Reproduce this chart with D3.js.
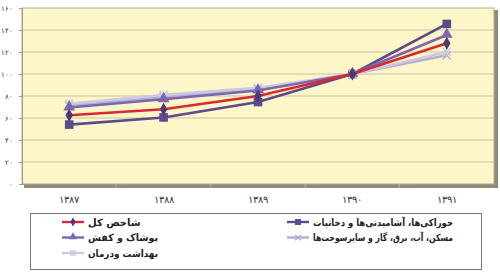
<!DOCTYPE html>
<html>
<head>
<meta charset="utf-8">
<script src="https://cdn.jsdelivr.net/npm/d3@7"></script>
<style>
  body { margin: 0; background: #fff; }
  svg { display: block; font-family: "DejaVu Sans", "Noto Sans", sans-serif; }
</style>
</head>
<body>
<div id="chart"></div>
<script>
// chart data
var years = ["۱۳۸۷", "۱۳۸۸", "۱۳۸۹", "۱۳۹۰", "۱۳۹۱"]
var yTicks = [0, 20, 40, 60, 80, 100, 120, 140, 160]
var yTickLabels = ["۰", "۲۰", "۴۰", "۶۰", "۸۰", "۱۰۰", "۱۲۰", "۱۴۰", "۱۶۰"]

var seriesNames = [
  "خوراکی‌ها، آشامیدنی‌ها و دخانیات",
  "مسکن، آب، برق، گاز و سایرسوخت‌ها",
  "بهداشت ودرمان",
  "پوشاک و کفش",
  "شاخص کل"
]
var foodValues     = [54, 60.5, 74.5, 100, 145.5]
var housingValues  = [71, 79, 86, 100, 117]
var healthValues   = [73, 81, 87.5, 100, 120]
var clothingValues = [69.5, 77, 85, 100, 135.5]
var totalValues    = [62.5, 68, 80, 100, 128]

var series = [
  {name: seriesNames[0], values: foodValues,     line: "#5b4a8c", mark: "#5b4a8c", shape: "square"},
  {name: seriesNames[1], values: housingValues,  line: "#b7abd8", mark: "#b7abd8", shape: "x"},
  {name: seriesNames[2], values: healthValues,   line: "#cdc9df", mark: "#cdc9df", shape: "star"},
  {name: seriesNames[3], values: clothingValues, line: "#7b67ad", mark: "#7b67ad", shape: "triangle"},
  {name: seriesNames[4], values: totalValues,    line: "#d8292e", mark: "#4a3a78", shape: "diamond"}
]

var width = 500, height = 272
var plot = {left: 22, right: 494, top: 8, bottom: 184}

var svg = d3.select("#chart").append("svg")
  .attr("width", width)
  .attr("height", height)

var x = d3.scaleBand().domain(years).range([plot.left, plot.right])
var y = d3.scaleLinear().domain([0, 160]).range([plot.bottom, plot.top])

// plot area with a soft shadow
svg.append("rect")
  .attr("x", plot.left + 2).attr("y", plot.top + 2)
  .attr("width", plot.right - plot.left + 2).attr("height", plot.bottom - plot.top + 2)
  .attr("fill", "#8e8c78")
svg.append("rect")
  .attr("x", plot.left).attr("y", plot.top)
  .attr("width", plot.right - plot.left).attr("height", plot.bottom - plot.top)
  .attr("fill", "#fcf6c9")
  .attr("stroke", "#b4b194")
  .attr("stroke-width", 1)

// gridlines
svg.append("g")
  .selectAll("line")
  .data(yTicks.slice(1, -1))
  .enter().append("line")
  .attr("x1", plot.left).attr("x2", plot.right)
  .attr("y1", function(d) { return y(d) }).attr("y2", function(d) { return y(d) })
  .attr("stroke", "#c9c49e")
  .attr("stroke-width", 1)

// y axis
var yAxis = svg.append("g")
  .attr("transform", "translate(" + plot.left + ",0)")
  .call(d3.axisLeft(y).tickValues(yTicks).tickSize(3).tickPadding(6)
    .tickFormat(function(d, i) { return yTickLabels[i] }))
yAxis.select(".domain").attr("stroke", "#9d9b88")
yAxis.selectAll(".tick line").attr("stroke", "#9d9b88")
yAxis.selectAll("text").attr("font-size", 7).attr("fill", "#333")

// x axis
var xAxis = svg.append("g")
  .attr("transform", "translate(0," + plot.bottom + ")")
  .call(d3.axisBottom(x).tickSize(0).tickPadding(12))
xAxis.select(".domain").attr("stroke", "#9d9b88")
xAxis.selectAll("text").attr("font-size", 9.5).attr("fill", "#333")
xAxis.selectAll(".sep")
  .data(years.slice(1))
  .enter().append("line")
  .attr("class", "sep")
  .attr("x1", function(d) { return x(d) }).attr("x2", function(d) { return x(d) })
  .attr("y1", 0).attr("y2", 4)
  .attr("stroke", "#b8b6a6")

function cx(i) { return x(years[i]) + x.bandwidth() / 2 }

function drawMarker(g, shape, color, px, py, s) {
  if (shape == "square") {
    g.append("rect").attr("x", px - s).attr("y", py - s)
      .attr("width", 2 * s).attr("height", 2 * s).attr("fill", color)
  } else if (shape == "diamond") {
    g.append("path").attr("d", d3.symbol(d3.symbolDiamond, s * s * 2.6)())
      .attr("transform", "translate(" + px + "," + py + ")").attr("fill", color)
  } else if (shape == "triangle") {
    g.append("path").attr("d", d3.symbol(d3.symbolTriangle, s * s * 3.2)())
      .attr("transform", "translate(" + px + "," + (py - 0.5) + ")").attr("fill", color)
  } else if (shape == "x") {
    g.append("path").attr("d", d3.symbol(d3.symbolX, s * s * 2.5)())
      .attr("transform", "translate(" + px + "," + py + ")")
      .attr("fill", "none").attr("stroke", color).attr("stroke-width", 1.4)
  } else if (shape == "star") {
    g.append("path").attr("d", d3.symbol(d3.symbolX, s * s * 2.5)())
      .attr("transform", "translate(" + px + "," + py + ")")
      .attr("fill", "none").attr("stroke", color).attr("stroke-width", 1.4)
    g.append("line").attr("x1", px).attr("x2", px)
      .attr("y1", py - s).attr("y2", py + s)
      .attr("stroke", color).attr("stroke-width", 1.4)
  }
}

// lines and markers
var line = d3.line()
  .x(function(d, i) { return cx(i) })
  .y(function(d) { return y(d) })

series.forEach(function(s) {
  var g = svg.append("g")
  g.append("path")
    .datum(s.values)
    .attr("d", line)
    .attr("fill", "none")
    .attr("stroke", s.line)
    .attr("stroke-width", 2.6)
  s.values.forEach(function(v, i) {
    drawMarker(g, s.shape, s.mark, cx(i), y(v), 4.3)
  })
})

// legend
var legend = svg.append("g")
legend.append("rect")
  .attr("x", 30.5).attr("y", 213.5)
  .attr("width", 451).attr("height", 56)
  .attr("fill", "#fff").attr("stroke", "#777").attr("stroke-width", 1)

var legendPos = [
  {col: 1, row: 0}, {col: 1, row: 1}, {col: 0, row: 2}, {col: 0, row: 1}, {col: 0, row: 0}
]
var colX = [62, 287]
var rowY = [222, 237.5, 253]

series.forEach(function(s, i) {
  var p = legendPos[i]
  var lx = colX[p.col], ly = rowY[p.row]
  legend.append("line")
    .attr("x1", lx).attr("x2", lx + 22)
    .attr("y1", ly).attr("y2", ly)
    .attr("stroke", s.line).attr("stroke-width", 2.4)
  drawMarker(legend, s.shape, s.mark, lx + 11, ly, 3)
  var t = legend.append("text")
    .attr("x", lx + 26).attr("y", ly + 3.5)
    .attr("font-size", 10)
    .attr("font-weight", "bold")
    .attr("fill", "#222")
    .text(s.name)
  // keep long names inside their column
  var maxW = p.col == 1 ? 140 : 70
  if (t.node().getComputedTextLength() > maxW) {
    t.attr("textLength", maxW).attr("lengthAdjust", "spacingAndGlyphs")
  }
})
</script>
</body>
</html>
